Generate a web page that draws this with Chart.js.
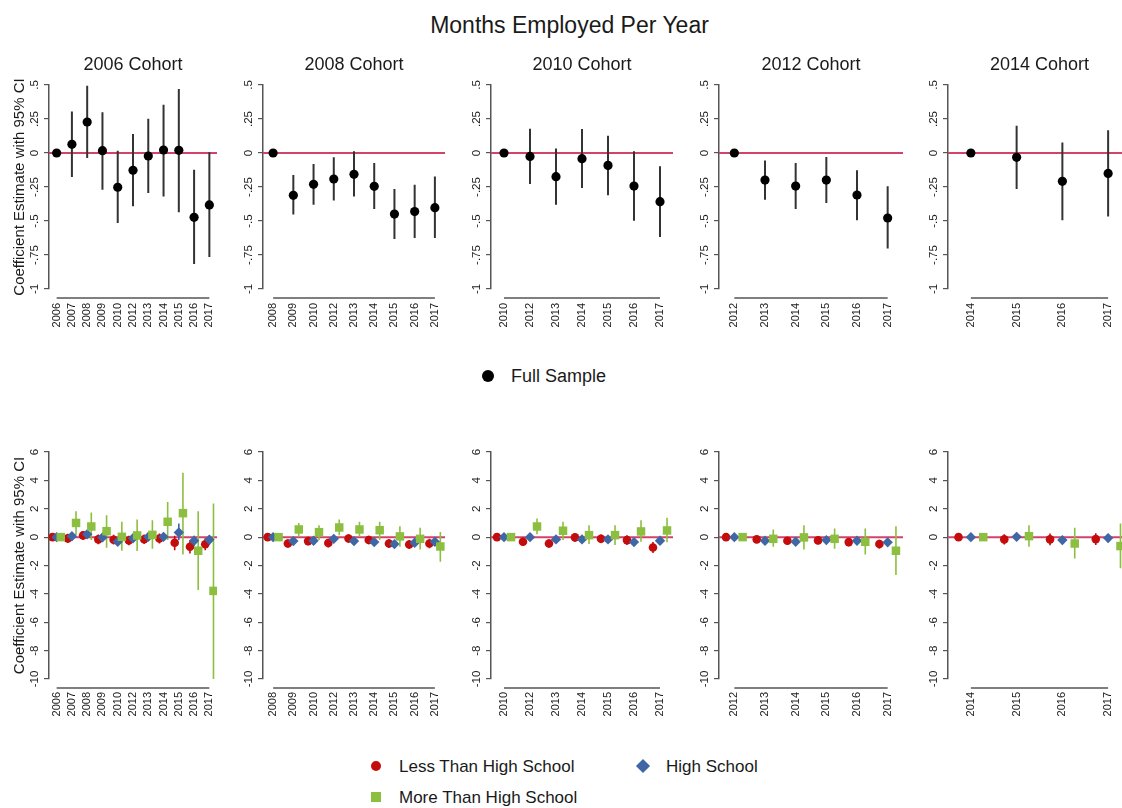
<!DOCTYPE html>
<html>
<head>
<meta charset="utf-8">
<title>Months Employed Per Year</title>
<script src="https://cdn.jsdelivr.net/npm/chart.js@4.4.1/dist/chart.umd.min.js"></script>
<style>
    html, body { margin: 0; padding: 0; background: #fff; overflow: hidden; }
    #page { position: relative; width: 1122px; height: 808px; overflow: hidden; font-family: 'Liberation Sans', Arial, sans-serif; color: #1a1a1a; }
    #page canvas { position: absolute; }
    .txt { position: absolute; white-space: nowrap; line-height: 1; }
    .mark { position: absolute; }
</style>
</head>
<body>
<div id="page">
    <div class="txt" style="left:0;width:1139px;text-align:center;top:14px;font-size:23px;">Months Employed Per Year</div>

    <div class="mark" style="left:482px;top:370px;width:12px;height:12px;border-radius:50%;background:#000;"></div>
    <div class="txt" style="left:511px;top:367px;font-size:18px;">Full Sample</div>

    <div class="mark" style="left:371px;top:761px;width:10px;height:10px;border-radius:50%;background:#c40c0c;"></div>
    <div class="txt" style="left:399px;top:758px;font-size:17px;">Less Than High School</div>
    <div class="mark" style="left:638px;top:761px;width:10px;height:10px;transform:rotate(45deg);background:#3f67a6;"></div>
    <div class="txt" style="left:666px;top:758px;font-size:17px;">High School</div>
    <div class="mark" style="left:371px;top:792px;width:10px;height:10px;background:#8cbf3f;"></div>
    <div class="txt" style="left:399px;top:789px;font-size:17px;">More Than High School</div>
</div>
<script>
// ---- categories -------------------------------------------------------------
const years2006 = ['2006', '2007', '2008', '2009', '2010', '2012', '2013', '2014', '2015', '2016', '2017'];
const years2008 = ['2008', '2009', '2010', '2012', '2013', '2014', '2015', '2016', '2017'];
const years2010 = ['2010', '2012', '2013', '2014', '2015', '2016', '2017'];
const years2012 = ['2012', '2013', '2014', '2015', '2016', '2017'];
const years2014 = ['2014', '2015', '2016', '2017'];

// ---- tick labels ------------------------------------------------------------
const topTicks = [-1, -0.75, -0.5, -0.25, 0, 0.25, 0.5];
const topTickLabels = ['-1', '-.75', '-.5', '-.25', '0', '.25', '.5'];
const bottomTicks = [-10, -8, -6, -4, -2, 0, 2, 4, 6];
const bottomTickLabels = ['-10', '-8', '-6', '-4', '-2', '0', '2', '4', '6'];

// ---- full sample (top row) --------------------------------------------------
const full2006 = [0, 0.064, 0.228, 0.017, -0.252, -0.127, -0.022, 0.022, 0.02, -0.473, -0.382];
const full2006Lo = [null, -0.176, -0.037, -0.27, -0.515, -0.392, -0.294, -0.319, -0.436, -0.816, -0.765];
const full2006Hi = [null, 0.306, 0.495, 0.299, 0.017, 0.14, 0.252, 0.355, 0.47, -0.123, 0.005];

const full2008 = [0, -0.311, -0.23, -0.191, -0.157, -0.245, -0.449, -0.431, -0.402];
const full2008Lo = [null, -0.453, -0.38, -0.35, -0.319, -0.412, -0.632, -0.625, -0.625];
const full2008Hi = [null, -0.162, -0.081, -0.032, 0.012, -0.074, -0.265, -0.233, -0.172];

const full2010 = [0, -0.025, -0.174, -0.042, -0.091, -0.243, -0.358];
const full2010Lo = [null, -0.228, -0.38, -0.257, -0.311, -0.498, -0.618];
const full2010Hi = [null, 0.179, 0.034, 0.176, 0.127, 0.012, -0.098];

const full2012 = [0, -0.199, -0.243, -0.199, -0.309, -0.478];
const full2012Lo = [null, -0.343, -0.412, -0.368, -0.495, -0.703];
const full2012Hi = [null, -0.056, -0.074, -0.029, -0.127, -0.245];

const full2014 = [0, -0.032, -0.208, -0.15];
const full2014Lo = [null, -0.265, -0.495, -0.466];
const full2014Hi = [null, 0.201, 0.078, 0.167];

// ---- by education (bottom row) ----------------------------------------------
const lessHs2006 = [0, -0.09, 0.12, -0.16, -0.18, -0.24, -0.15, -0.1, -0.4, -0.68, -0.5];
const lessHs2006Lo = [null, -0.42, -0.2, -0.5, -0.52, -0.58, -0.48, -0.45, -0.92, -1.15, -0.92];
const lessHs2006Hi = [null, 0.24, 0.44, 0.18, 0.16, 0.1, 0.18, 0.25, 0.1, -0.21, -0.08];
const hs2006 = [0, 0.06, 0.2, -0.02, -0.33, -0.08, 0.02, 0.02, 0.33, -0.26, -0.19];
const hs2006Lo = [null, -0.22, -0.08, -0.3, -0.62, -0.36, -0.26, -0.27, -0.22, -0.62, -0.52];
const hs2006Hi = [null, 0.34, 0.48, 0.26, -0.04, 0.2, 0.3, 0.31, 0.96, 0.1, 0.14];
const moreHs2006 = [0, 1.0, 0.75, 0.42, 0.02, 0.12, 0.16, 1.08, 1.69, -0.96, -3.79];
const moreHs2006Lo = [null, 0.15, -0.2, -0.75, -0.96, -0.98, -0.82, -0.2, -1.22, -3.72, -10];
const moreHs2006Hi = [null, 1.83, 1.73, 1.55, 1.08, 1.24, 1.19, 2.48, 4.54, 1.83, 2.37];

const lessHs2008 = [0, -0.45, -0.28, -0.42, -0.1, -0.2, -0.45, -0.52, -0.45];
const lessHs2008Lo = [null, -0.75, -0.58, -0.72, -0.4, -0.5, -0.76, -0.84, -0.78];
const lessHs2008Hi = [null, -0.15, 0.02, -0.12, 0.2, 0.1, -0.14, -0.2, -0.12];
const hs2008 = [0, -0.28, -0.26, -0.12, -0.28, -0.35, -0.49, -0.4, -0.33];
const hs2008Lo = [null, -0.52, -0.5, -0.36, -0.52, -0.6, -0.74, -0.66, -0.6];
const hs2008Hi = [null, -0.04, -0.02, 0.12, -0.04, -0.1, -0.24, -0.14, -0.06];
const moreHs2008 = [0, 0.54, 0.35, 0.68, 0.54, 0.49, 0.05, -0.12, -0.66];
const moreHs2008Lo = [null, 0.02, -0.2, 0.14, 0.02, -0.2, -0.68, -0.87, -1.73];
const moreHs2008Hi = [null, 1.0, 0.84, 1.24, 1.08, 1.08, 0.77, 0.66, 0.37];

const lessHs2010 = [0, -0.33, -0.45, -0.02, -0.12, -0.21, -0.73];
const lessHs2010Lo = [null, -0.62, -0.75, -0.32, -0.42, -0.55, -1.12];
const lessHs2010Hi = [null, -0.04, -0.15, 0.28, 0.18, 0.13, -0.34];
const hs2010 = [0, 0, -0.16, -0.16, -0.16, -0.35, -0.26];
const hs2010Lo = [null, -0.24, -0.4, -0.4, -0.4, -0.62, -0.52];
const hs2010Hi = [null, 0.24, 0.08, 0.08, 0.08, -0.08, 0];
const moreHs2010 = [0, 0.75, 0.45, 0.14, 0.14, 0.4, 0.47];
const moreHs2010Lo = [null, 0.21, -0.2, -0.49, -0.56, -0.33, -0.37];
const moreHs2010Hi = [null, 1.31, 1.08, 0.84, 0.84, 1.19, 1.36];

const lessHs2012 = [0, -0.16, -0.26, -0.23, -0.35, -0.49];
const lessHs2012Lo = [null, -0.42, -0.52, -0.5, -0.64, -0.8];
const lessHs2012Hi = [null, 0.1, 0, 0.04, -0.06, -0.18];
const hs2012 = [0, -0.26, -0.33, -0.21, -0.26, -0.37];
const hs2012Lo = [null, -0.5, -0.58, -0.45, -0.52, -0.64];
const hs2012Hi = [null, -0.02, -0.08, 0.03, 0, -0.1];
const moreHs2012 = [0, -0.12, -0.02, -0.12, -0.33, -0.96];
const moreHs2012Lo = [null, -0.68, -0.87, -0.82, -1.22, -2.67];
const moreHs2012Hi = [null, 0.54, 0.84, 0.61, 0.61, 0.77];

const lessHs2014 = [0, -0.16, -0.16, -0.14];
const lessHs2014Lo = [null, -0.52, -0.58, -0.56];
const lessHs2014Hi = [null, 0.2, 0.26, 0.28];
const hs2014 = [0, 0.02, -0.21, -0.07];
const hs2014Lo = [null, -0.26, -0.5, -0.36];
const hs2014Hi = [null, 0.3, 0.08, 0.22];
const moreHs2014 = [0, 0.07, -0.45, -0.63];
const moreHs2014Lo = [null, -0.68, -1.5, -2.2];
const moreHs2014Hi = [null, 0.84, 0.66, 0.96];

// ---- styling / layout ---------------------------------------------------------
const RED = '#c40c0c';
const BLUE = '#3f67a6';
const GREEN = '#8cbf3f';
const ZERO_LINE = '#d2436b';
const AXIS = '#555';
const TEXT = '#1a1a1a';
const GROUP_SHIFT = 0.27;
const FONT = "'Liberation Sans', Arial, sans-serif";

// plot-region edges of the five columns (pixels on the page)
const PLOT_LEFT = [49, 263, 491, 719, 948];
const PLOT_RIGHT = [217, 445, 673, 903, 1131];

Chart.defaults.font.family = FONT;
Chart.defaults.color = TEXT;

// Stata-ish axes: zero line, x axis line offset below the plot, rotated y labels,
// panel title centred over the plot region
const stataAxes = {
    id: 'stataAxes',
    beforeDatasetsDraw(chart) {
        const { ctx, chartArea, scales: { y } } = chart;
        const y0 = y.getPixelForValue(0);
        ctx.save();
        ctx.strokeStyle = ZERO_LINE;
        ctx.lineWidth = 2;
        ctx.beginPath();
        ctx.moveTo(chartArea.left, y0);
        ctx.lineTo(chartArea.right, y0);
        ctx.stroke();
        ctx.restore();
    },
    afterDraw(chart, args, opts) {
        const { ctx, chartArea, scales: { x, y } } = chart;
        ctx.save();
        const axisY = chartArea.bottom + 9;
        ctx.strokeStyle = AXIS;
        ctx.lineWidth = 1.5;
        ctx.beginPath();
        ctx.moveTo(x.getPixelForValue(0), axisY);
        ctx.lineTo(x.getPixelForValue(opts.count - 1), axisY);
        ctx.stroke();

        ctx.fillStyle = TEXT;
        ctx.font = `11.5px ${FONT}`;
        ctx.textAlign = 'center';
        ctx.textBaseline = 'middle';
        opts.ticks.forEach((v, i) => {
            ctx.save();
            ctx.translate(chartArea.left - 14, y.getPixelForValue(v));
            ctx.rotate(-Math.PI / 2);
            ctx.fillText(opts.labels[i], 0, 0);
            ctx.restore();
        });

        if (opts.title) {
            ctx.font = `18px ${FONT}`;
            ctx.fillText(opts.title, (chartArea.left + chartArea.right) / 2, chartArea.top - 20);
        }
        ctx.restore();
    },
};

function ciPoints(lo, hi, shift) {
    const pts = [];
    lo.forEach((v, i) => {
        if (v === null) {
            return;
        }
        pts.push({ x: i + shift, y: v }, { x: i + shift, y: hi[i] }, { x: i + shift, y: null });
    });
    return pts;
}

function markerPoints(est, shift) {
    return est.map((v, i) => ({ x: i + shift, y: v }));
}

function ciDataset(lo, hi, shift, color, width, order) {
    return {
        data: ciPoints(lo, hi, shift),
        showLine: true,
        spanGaps: false,
        borderColor: color,
        borderWidth: width,
        pointRadius: 0,
        order,
    };
}

function markerDataset(est, shift, color, style, radius, order) {
    return {
        data: markerPoints(est, shift),
        pointStyle: style,
        pointRadius: radius,
        pointBackgroundColor: color,
        pointBorderWidth: 0,
        order,
    };
}

function makePanel(col, row, panel) {
    const isTop = 0 === row;
    const canvasLeft = 0 === col ? 0 : PLOT_LEFT[col] - 40;
    const yBox = PLOT_LEFT[col] - canvasLeft;
    const width = PLOT_RIGHT[col] - canvasLeft + 6;
    const canvasTop = isTop ? 53 : 440;
    const height = isTop ? 300 : 305;
    const xBox = isTop ? 64 : 66;

    const canvas = document.createElement('canvas');
    canvas.width = width;
    canvas.height = height;
    canvas.style.left = canvasLeft + 'px';
    canvas.style.top = canvasTop + 'px';
    canvas.style.width = width + 'px';
    canvas.style.height = height + 'px';
    document.getElementById('page').appendChild(canvas);

    const ticks = isTop ? topTicks : bottomTicks;
    const years = panel.years;

    new Chart(canvas, {
        type: 'scatter',
        data: { datasets: panel.datasets },
        plugins: [stataAxes],
        options: {
            responsive: false,
            animation: false,
            events: [],
            layout: { padding: { top: isTop ? 32 : 12, right: 6, bottom: 0, left: 0 } },
            plugins: {
                legend: { display: false },
                tooltip: { enabled: false },
                stataAxes: {
                    ticks,
                    labels: isTop ? topTickLabels : bottomTickLabels,
                    count: years.length,
                    title: panel.title,
                },
            },
            scales: {
                x: {
                    type: 'linear',
                    min: -0.5,
                    max: years.length - 0.5,
                    afterBuildTicks: (s) => { s.ticks = years.map((_, i) => ({ value: i })); },
                    // fixed box; the rotated labels must not squeeze the plot region
                    afterFit: (s) => {
                        s.height = xBox;
                        s.paddingLeft = 0;
                        s.paddingRight = 0;
                    },
                    grid: { display: false, drawTicks: false },
                    border: { display: false },
                    ticks: {
                        autoSkip: false,
                        minRotation: 90,
                        maxRotation: 90,
                        padding: isTop ? 14 : 13,
                        color: TEXT,
                        font: { size: 11 },
                        callback: (v, i) => years[i],
                    },
                },
                y: {
                    min: ticks[0],
                    max: ticks[ticks.length - 1],
                    afterBuildTicks: (s) => { s.ticks = ticks.map((v) => ({ value: v })); },
                    afterFit: (s) => { s.width = yBox; },
                    grid: { drawOnChartArea: false, drawTicks: true, tickLength: 5, color: AXIS, lineWidth: 1.2 },
                    border: { color: AXIS, width: 1.5 },
                    ticks: { display: false },
                    title: {
                        display: 0 === col,
                        text: 'Coefficient Estimate with 95% CI',
                        color: TEXT,
                        font: { size: 15 },
                        padding: { top: 11, bottom: 0 },
                    },
                },
            },
        },
    });
}

function fullPanel(title, years, est, lo, hi) {
    return {
        title,
        years,
        datasets: [
            markerDataset(est, 0, '#000', 'circle', 4.6, 1),
            ciDataset(lo, hi, 0, '#333', 2, 2),
        ],
    };
}

function groupPanel(years, less, lessLo, lessHi, hs, hsLo, hsHi, more, moreLo, moreHi) {
    return {
        years,
        datasets: [
            markerDataset(more, GROUP_SHIFT, GREEN, 'rect', 6, 1),
            markerDataset(hs, 0, BLUE, 'rectRot', 5.2, 2),
            markerDataset(less, -GROUP_SHIFT, RED, 'circle', 4.3, 3),
            ciDataset(moreLo, moreHi, GROUP_SHIFT, GREEN, 1.6, 4),
            ciDataset(hsLo, hsHi, 0, BLUE, 1.6, 5),
            ciDataset(lessLo, lessHi, -GROUP_SHIFT, RED, 1.6, 6),
        ],
    };
}

const topPanels = [
    fullPanel('2006 Cohort', years2006, full2006, full2006Lo, full2006Hi),
    fullPanel('2008 Cohort', years2008, full2008, full2008Lo, full2008Hi),
    fullPanel('2010 Cohort', years2010, full2010, full2010Lo, full2010Hi),
    fullPanel('2012 Cohort', years2012, full2012, full2012Lo, full2012Hi),
    fullPanel('2014 Cohort', years2014, full2014, full2014Lo, full2014Hi),
];

const bottomPanels = [
    groupPanel(years2006, lessHs2006, lessHs2006Lo, lessHs2006Hi, hs2006, hs2006Lo, hs2006Hi, moreHs2006, moreHs2006Lo, moreHs2006Hi),
    groupPanel(years2008, lessHs2008, lessHs2008Lo, lessHs2008Hi, hs2008, hs2008Lo, hs2008Hi, moreHs2008, moreHs2008Lo, moreHs2008Hi),
    groupPanel(years2010, lessHs2010, lessHs2010Lo, lessHs2010Hi, hs2010, hs2010Lo, hs2010Hi, moreHs2010, moreHs2010Lo, moreHs2010Hi),
    groupPanel(years2012, lessHs2012, lessHs2012Lo, lessHs2012Hi, hs2012, hs2012Lo, hs2012Hi, moreHs2012, moreHs2012Lo, moreHs2012Hi),
    groupPanel(years2014, lessHs2014, lessHs2014Lo, lessHs2014Hi, hs2014, hs2014Lo, hs2014Hi, moreHs2014, moreHs2014Lo, moreHs2014Hi),
];

topPanels.forEach((p, col) => makePanel(col, 0, p));
bottomPanels.forEach((p, col) => makePanel(col, 1, p));
</script>
</body>
</html>
